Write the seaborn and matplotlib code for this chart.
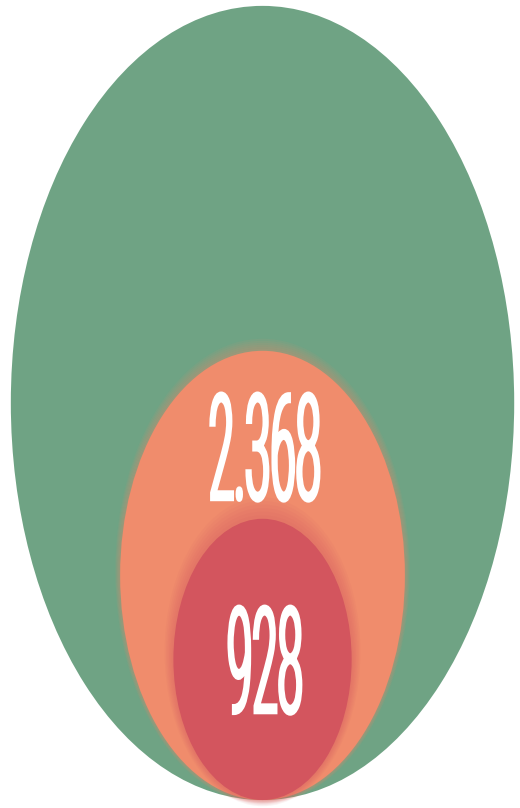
import numpy as np
import matplotlib
matplotlib.use("Agg")
import matplotlib.pyplot as plt
import matplotlib.patheffects as pe
from matplotlib.patches import Circle
from matplotlib.transforms import Affine2D
import seaborn as sns

# nested, bottom-aligned bubbles (area ~ value); outer one carries no label
values = [7400, 2368, 928]
labels = ["", "2.368", "928"]
colors = ["#6fa384", "#f08c6c", "#d3555e"]
glow = [0.0, 0.28, 0.5]


class CondensedText(pe.AbstractPathEffect):
    """Squeeze glyphs horizontally and thicken them with a stroke."""

    def __init__(self, sx=0.3, lw=6.0):
        super().__init__()
        self.sx = sx
        self.lw = lw

    def draw_path(self, renderer, gc, tpath, affine, rgbFace=None):
        ext = tpath.get_extents()
        cx = (ext.x0 + ext.x1) / 2
        aff = Affine2D().translate(-cx, 0).scale(self.sx, 1).translate(cx, 0) + affine
        gc0 = renderer.new_gc()
        gc0.copy_properties(gc)
        gc0.set_linewidth(self.lw)
        gc0.set_foreground(rgbFace)
        gc0.set_joinstyle("miter")
        renderer.draw_path(gc0, tpath, aff, rgbFace)
        gc0.restore()


sns.set_theme(style="white")
palette = sns.color_palette(colors)

fig = plt.figure(figsize=(5.2, 8.08), dpi=100)
ax = fig.add_axes([0, 0, 1, 1])
ax.set_axis_off()

radii = np.sqrt(values)
r0 = radii[0]

for i, (r, col, g) in enumerate(zip(radii, palette, glow)):
    if g > 0:
        # soft glow round the inner bubbles
        for k in range(6, 0, -1):
            rr = r + k * g
            ax.add_patch(Circle((0, rr - k * g * 0.45), rr, color=col, alpha=0.07, lw=0))
    ax.add_patch(Circle((0, r), r, color=col, lw=0))

cap = 23.0
for i, (r, lab) in enumerate(zip(radii, labels)):
    if not lab:
        continue
    if i + 1 < len(radii):
        yc = (2 * r + 2 * radii[i + 1]) / 2 - 2.5
    else:
        yc = r
    ax.text(0.8, yc - cap / 2, lab, ha="center", va="baseline",
            color="white", fontsize=106, family=["Roboto", "DejaVu Sans"],
            fontweight=300, fontstyle="normal",
            path_effects=[CondensedText(sx=0.31, lw=2.6)])

ax.set_xlim(-r0 * 1.043, r0 * 1.023)
ax.set_ylim(-r0 * 0.0201, 2 * r0 + r0 * 0.0148)

fig.savefig("out.png", dpi=100, facecolor="white")
